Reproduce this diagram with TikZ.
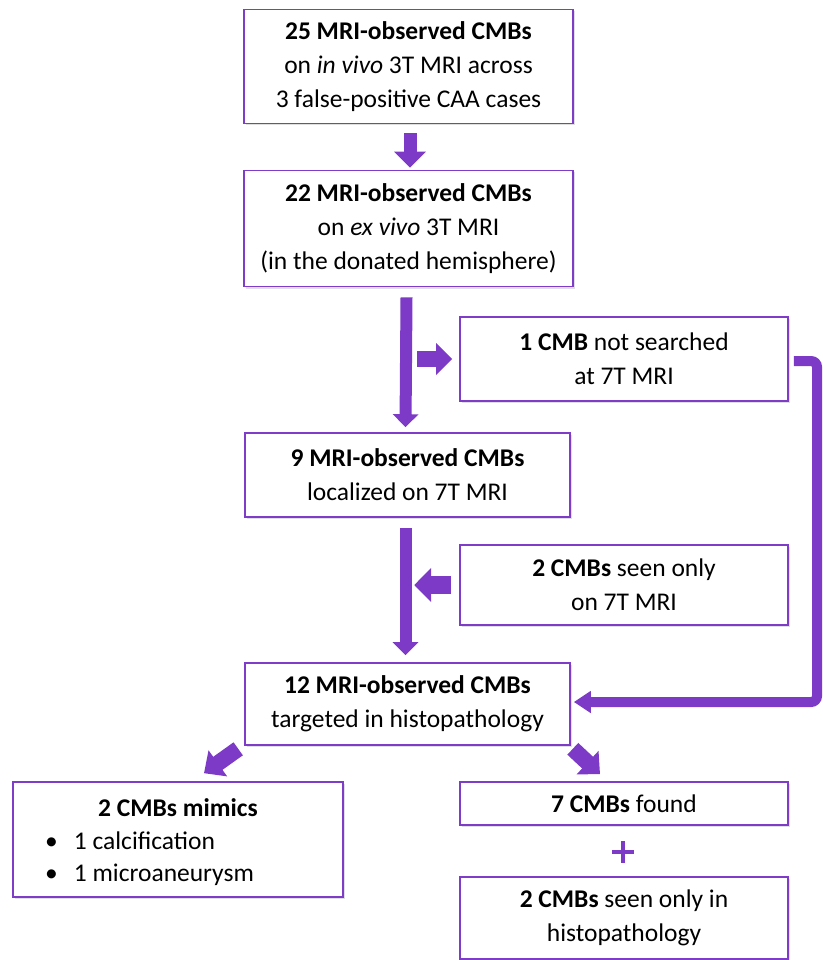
\documentclass[tikz,border=0pt]{standalone}
\usepackage{fontspec}
\setmainfont{Carlito}
\usetikzlibrary{arrows.meta,shadows,calc}
\definecolor{pur}{RGB}{126,60,200}
\definecolor{arr}{RGB}{124,58,198}
\tikzset{
  box/.style={draw=pur, line width=1.6pt, fill=white, align=center,
    font=\fontsize{25.5}{34}\selectfont, inner sep=0pt,
    drop shadow={shadow xshift=2pt, shadow yshift=-2pt, opacity=0.25}},
  txt/.style={font=\fontsize{25.5}{34}\selectfont, inner sep=0pt},
  fat/.style={draw=arr, line width=#1}
}
\begin{document}
\begin{tikzpicture}[x=1pt,y=-1pt]
\useasboundingbox (0,0) rectangle (822,960);
% boxes
\node[box, minimum width=329pt, minimum height=114pt] (b1) at (408.5,66.5)
  {\textbf{25 MRI-observed CMBs}\\on \textit{in vivo} 3T MRI across\\3 false-positive CAA cases};
\node[box, minimum width=329pt, minimum height=116pt] (b2) at (408.5,228.5)
  {\textbf{22 MRI-observed CMBs}\\on \textit{ex vivo} 3T MRI\\(in the donated hemisphere)};
\node[box, minimum width=328pt, minimum height=84pt] (b3) at (624,359)
  {\textbf{1 CMB} not searched\\at 7T MRI};
\node[box, minimum width=325pt, minimum height=84pt] (b4) at (407.5,475)
  {\textbf{9 MRI-observed CMBs}\\localized on 7T MRI};
\node[box, minimum width=328pt, minimum height=80pt] (b5) at (624,585)
  {\textbf{2 CMBs} seen only\\on 7T MRI};
\node[box, minimum width=325pt, minimum height=82pt] (b6) at (407.5,704)
  {\textbf{12 MRI-observed CMBs}\\targeted in histopathology};
\node[box, minimum width=330pt, minimum height=115pt] (b7) at (178,839.5) {};
\node[txt] (b7t) at (178,808) {\textbf{2 CMBs mimics}};
\node[txt, anchor=west] (b7a) at (45,841) {\textbullet\hspace{16pt}1 calcification};
\node[txt, anchor=west] (b7b) at (45,875) {\textbullet\hspace{16pt}1 microaneurysm};
\node[box, minimum width=328pt, minimum height=43pt] (b8) at (624,803.5)
  {\textbf{7 CMBs} found};
\node[box, minimum width=328pt, minimum height=82pt] (b9) at (624,918)
  {\textbf{2 CMBs} seen only in\\histopathology};
% plus
\coordinate (pl) at (623,852);
\draw[arr, line width=4pt] ($(pl)+(-11,0)$) -- ($(pl)+(11,0)$);
\draw[arr, line width=4pt] ($(pl)+(0,-11)$) -- ($(pl)+(0,11)$);
% arrows
\draw[fat=13pt, -{Triangle[width=31pt,length=16pt]}]
  ($(b1.south)+(1.5,9)$) -- ($(b2.north)+(1.5,-2)$);
\draw[fat=12pt, -{Triangle[width=25pt,length=13pt]}]
  ($(b2.south)+(-2,10)$) -- ($(b4.north)+(-2,-5)$);
\draw[fat=16pt, -{Triangle[width=31pt,length=16pt]}]
  ($(b3.west)+(-42,0)$) -- ($(b3.west)+(-7,0)$);
\draw[fat=12pt, -{Triangle[width=25pt,length=13pt]}]
  ($(b4.south)+(-2,10)$) -- ($(b6.north)+(-2,-7)$);
\draw[fat=18pt, -{Triangle[width=33pt,length=17pt]}]
  ($(b5.west)+(-8,0)$) -- ($(b5.west)+(-45,0)$);
\draw[fat=10pt, rounded corners=6pt, -{Triangle[width=21pt,length=17pt]}]
  ($(b3.east)+(5,2)$) -| (817,702) -- ($(b6.east)+(3,-2)$);
\draw[fat=16pt, -{Triangle[width=31pt,length=17pt]}]
  ($(b6.south west)+(-6,3)$) -- ($(b7.north)+(26,-8)$);
\draw[fat=16pt, -{Triangle[width=31pt,length=17pt]}]
  ($(b6.south east)+(2,3)$) -- ($(b8.north)+(-24,-7)$);
\end{tikzpicture}
\end{document}
